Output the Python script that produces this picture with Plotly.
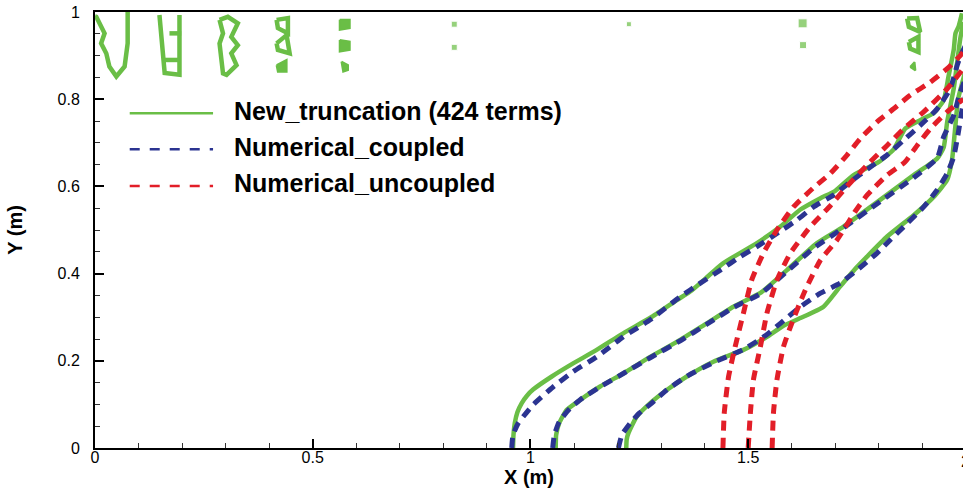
import plotly.graph_objects as go

# ---------------- data ----------------
# New_truncation (424 terms) - three green contours
g1_x = [0.960, 0.961, 0.964, 0.970, 0.980, 0.992, 1.006, 1.049, 1.098, 1.152, 1.213, 1.279, 1.336, 1.371, 1.443,
        1.520, 1.574, 1.620, 1.666, 1.700, 1.742, 1.800, 1.834, 1.861, 1.895, 1.926, 1.949, 1.960, 1.972, 1.976,
        1.983, 1.991]
g1_y = [0.000, 0.030, 0.057, 0.082, 0.103, 0.120, 0.134, 0.164, 0.194, 0.225, 0.263, 0.301, 0.339, 0.362, 0.424,
        0.470, 0.508, 0.547, 0.573, 0.590, 0.626, 0.656, 0.685, 0.733, 0.752, 0.768, 0.798, 0.852, 0.913, 0.951,
        0.966, 0.997]

g2_x = [1.058, 1.059, 1.066, 1.083, 1.114, 1.160, 1.213, 1.275, 1.344, 1.405, 1.466, 1.530, 1.589, 1.658, 1.719,
        1.803, 1.880, 1.934, 1.949, 1.957, 1.972, 1.980, 1.987, 1.994]
g2_y = [0.000, 0.030, 0.057, 0.087, 0.110, 0.141, 0.171, 0.209, 0.248, 0.286, 0.324, 0.357, 0.408, 0.470, 0.508,
        0.569, 0.626, 0.664, 0.690, 0.748, 0.824, 0.885, 0.939, 0.977]

g3_x = [1.220, 1.221, 1.225, 1.244, 1.275, 1.313, 1.359, 1.420, 1.489, 1.543, 1.580, 1.620, 1.673, 1.711, 1.745,
        1.773, 1.819, 1.880, 1.926, 1.957, 1.968, 1.975, 1.982, 1.994, 2.000]
g3_y = [0.000, 0.020, 0.034, 0.072, 0.103, 0.133, 0.164, 0.198, 0.225, 0.255, 0.280, 0.298, 0.324, 0.370, 0.410,
        0.439, 0.485, 0.534, 0.576, 0.615, 0.660, 0.730, 0.800, 0.847, 0.870]

# Numerical_coupled - three blue dashed contours
b1_x = [0.957, 0.960, 0.972, 0.990, 1.006, 1.052, 1.098, 1.152, 1.213, 1.275, 1.344, 1.390, 1.436, 1.482, 1.520,
        1.566, 1.612, 1.650, 1.696, 1.734, 1.780, 1.819, 1.857, 1.895, 1.934, 1.964, 1.980, 1.990, 2.000]
b1_y = [0.000, 0.030, 0.057, 0.080, 0.099, 0.140, 0.175, 0.209, 0.255, 0.294, 0.347, 0.378, 0.408, 0.439, 0.462,
        0.492, 0.523, 0.553, 0.580, 0.610, 0.644, 0.672, 0.706, 0.740, 0.778, 0.824, 0.878, 0.905, 0.925]

b2_x = [1.051, 1.055, 1.066, 1.090, 1.120, 1.165, 1.215, 1.275, 1.344, 1.405, 1.466, 1.530, 1.589, 1.650, 1.719,
        1.803, 1.880, 1.934, 1.949, 1.972, 1.985, 2.000]
b2_y = [0.000, 0.030, 0.060, 0.090, 0.115, 0.143, 0.172, 0.207, 0.246, 0.284, 0.322, 0.355, 0.405, 0.458, 0.505,
        0.565, 0.620, 0.665, 0.714, 0.763, 0.810, 0.850]

b3_x = [1.202, 1.210, 1.229, 1.250, 1.275, 1.313, 1.360, 1.420, 1.489, 1.540, 1.574, 1.620, 1.666, 1.711, 1.750,
        1.796, 1.826, 1.865, 1.903, 1.934, 1.957, 1.972, 1.982, 1.992, 2.000]
b3_y = [0.000, 0.030, 0.057, 0.080, 0.100, 0.133, 0.165, 0.196, 0.226, 0.258, 0.286, 0.324, 0.355, 0.378, 0.408,
        0.447, 0.477, 0.515, 0.553, 0.592, 0.630, 0.668, 0.720, 0.780, 0.810]

# Numerical_uncoupled - three red dashed contours
r1_x = [1.442, 1.445, 1.455, 1.470, 1.489, 1.508, 1.535, 1.566, 1.604, 1.650, 1.689, 1.727, 1.757, 1.796, 1.834,
        1.872, 1.918, 1.957, 1.987, 2.000]
r1_y = [0.000, 0.080, 0.164, 0.232, 0.309, 0.385, 0.447, 0.500, 0.553, 0.597, 0.630, 0.672, 0.709, 0.748, 0.778,
        0.809, 0.839, 0.870, 0.900, 0.915]

r2_x = [1.500, 1.505, 1.512, 1.528, 1.543, 1.566, 1.597, 1.643, 1.689, 1.727, 1.780, 1.819, 1.857, 1.903, 1.957,
        1.994]
r2_y = [0.000, 0.080, 0.156, 0.232, 0.309, 0.385, 0.447, 0.508, 0.556, 0.600, 0.656, 0.694, 0.732, 0.771, 0.824,
        0.870]

r3_x = [1.555, 1.558, 1.566, 1.581, 1.600, 1.631, 1.666, 1.704, 1.746, 1.773, 1.819, 1.860, 1.888, 1.918, 1.957,
        1.994]
r3_y = [0.000, 0.080, 0.156, 0.232, 0.286, 0.362, 0.431, 0.477, 0.543, 0.580, 0.626, 0.656, 0.694, 0.732, 0.771,
        0.800]

# spurious small green contours near the top edge (outlines, None separates pieces)
noise_x = [0.000, 0.003, 0.022, 0.014, 0.026, 0.033, 0.049, 0.068, 0.075, 0.075, None,
           0.148, 0.160, 0.194, 0.194, None, 0.171, 0.198, None, 0.160, 0.194, None,
           0.286, 0.294, 0.286, 0.290, 0.294, 0.302, 0.325, 0.313, 0.328, 0.313, 0.328, 0.305, 0.286, None,
           0.417, 0.443, 0.443, 0.420, 0.417, None,
           0.417, 0.440, 0.447, 0.420, 0.417, None,
           1.865, 1.888, 1.895, 1.869, 1.865, None,
           1.869, 1.891, 1.891, 1.872, 1.869]
noise_y = [0.990, 0.989, 0.951, 0.928, 0.905, 0.875, 0.852, 0.875, 0.928, 1.000, None,
           0.993, 0.860, 0.856, 0.993, None, 0.951, 0.951, None, 0.890, 0.890, None,
           0.982, 0.951, 0.928, 0.898, 0.859, 0.856, 0.878, 0.905, 0.924, 0.943, 0.974, 0.989, 0.982, None,
           0.982, 0.986, 0.951, 0.963, 0.982, None,
           0.928, 0.947, 0.905, 0.913, 0.928, None,
           0.985, 0.986, 0.954, 0.966, 0.985, None,
           0.931, 0.943, 0.908, 0.916, 0.931]
# solid (filled) small green blobs
blob_x = [0.417, 0.440, 0.440, 0.420, 0.417, None,
          0.562, 0.585, 0.585, 0.562, 0.562, None,
          0.562, 0.585, 0.585, 0.562, 0.562, None,
          0.566, 0.581, 0.581, 0.570, 0.566, None,
          1.872, 1.882, 1.884, 1.872]
blob_y = [0.878, 0.890, 0.863, 0.863, 0.878, None,
          0.982, 0.982, 0.963, 0.959, 0.982, None,
          0.936, 0.932, 0.913, 0.909, 0.936, None,
          0.886, 0.878, 0.867, 0.863, 0.886, None,
          0.874, 0.885, 0.866, 0.874]
dot_x = [0.825, 0.825, 1.226, 1.625, 1.626]
dot_y = [0.972, 0.919, 0.972, 0.974, 0.924]
dot_size = [6, 6, 5, 9, 7]

x_tickvals = [0, 0.5, 1, 1.5]
x_ticktext = ["0", "0.5", "1", "1.5"]
x_edge_label = "2"
y_tickvals = [0, 0.2, 0.4, 0.6, 0.8, 1.0]
y_ticktext = ["0", "0.2", "0.4", "0.6", "0.8", "1"]

legend_names = ["New_truncation (424 terms)", "Numerical_coupled", "Numerical_uncoupled"]

# ---------------- styles ----------------
GREEN = "rgb(106,190,70)"
BLUE = "rgb(43,52,145)"
RED = "rgb(226,30,40)"
DASH = "10px,7px"
FONT = "Liberation Sans, Arial, sans-serif"

fig = go.Figure()

for xs, ys in [(g1_x, g1_y), (g2_x, g2_y), (g3_x, g3_y)]:
    fig.add_trace(go.Scatter(x=xs, y=ys, mode="lines", showlegend=False, name=legend_names[0],
                             line=dict(color=GREEN, width=4.5, shape="spline", smoothing=0.5)))
fig.add_trace(go.Scatter(x=noise_x, y=noise_y, mode="lines", showlegend=False, name=legend_names[0],
                         line=dict(color=GREEN, width=4.5)))
fig.add_trace(go.Scatter(x=blob_x, y=blob_y, mode="lines", fill="toself", fillcolor=GREEN, showlegend=False,
                         name=legend_names[0], line=dict(color=GREEN, width=2)))
fig.add_trace(go.Scatter(x=dot_x, y=dot_y, mode="markers", showlegend=False, name=legend_names[0],
                         marker=dict(color=GREEN, size=dot_size, symbol="square")))
for xs, ys in [(b1_x, b1_y), (b2_x, b2_y), (b3_x, b3_y)]:
    fig.add_trace(go.Scatter(x=xs, y=ys, mode="lines", showlegend=False, name=legend_names[1],
                             line=dict(color=BLUE, width=5, dash=DASH, shape="spline", smoothing=0.5)))
for xs, ys in [(r1_x, r1_y), (r2_x, r2_y), (r3_x, r3_y)]:
    fig.add_trace(go.Scatter(x=xs, y=ys, mode="lines", showlegend=False, name=legend_names[2],
                             line=dict(color=RED, width=5, dash=DASH, shape="spline", smoothing=0.5)))

# ---------------- hand-drawn legend (paper coordinates) ----------------
leg_rows = [(0.768, GREEN, "solid"), (0.685, BLUE, "10px,10px"), (0.601, RED, "10px,10px")]
for (yp, col, dsh), name in zip(leg_rows, legend_names):
    fig.add_shape(type="line", xref="paper", yref="paper", x0=0.040, x1=0.136, y0=yp, y1=yp,
                  line=dict(color=col, width=2.5, dash=dsh))
    fig.add_annotation(xref="paper", yref="paper", x=0.158, y=yp + 0.006, xanchor="left", yanchor="middle",
                       text="<b>" + name + "</b>", showarrow=False,
                       font=dict(family=FONT, size=25, color="black"))

# partially visible "2" tick label at the right edge (x = 2 lies just past the visible plot edge)
fig.add_annotation(xref="paper", yref="paper", x=1.0, y=0, xanchor="center", yanchor="top", xshift=2, yshift=-3,
                   text=x_edge_label, showarrow=False, font=dict(family=FONT, size=16, color="black"))

axis_common = dict(showgrid=False, zeroline=False, showline=True, linecolor="black", linewidth=2,
                   ticks="inside", ticklen=9, tickwidth=2, tickcolor="black",
                   tickfont=dict(family=FONT, size=16, color="black"))

fig.update_xaxes(range=[0, 1.9933], tickvals=x_tickvals, ticktext=x_ticktext, mirror=True,
                 minor=dict(dtick=0.1, ticks="inside", ticklen=5, tickwidth=1.2, tickcolor="#333"),
                 title=dict(text="<b>X (m)</b>", standoff=0,
                            font=dict(family=FONT, size=20, color="black")),
                 ticklabelstandoff=-6, **axis_common)
fig.update_yaxes(range=[0, 1], tickvals=y_tickvals, ticktext=y_ticktext,
                 minor=dict(dtick=0.05, ticks="inside", ticklen=5, tickwidth=1.2, tickcolor="#333"),
                 title=dict(text="<b>Y (m)</b>", standoff=30,
                            font=dict(family=FONT, size=20, color="black")),
                 ticklabelstandoff=10, **axis_common)

fig.update_layout(width=963, height=493, margin=dict(l=95, r=0, t=12, b=45),
                  paper_bgcolor="white", plot_bgcolor="white", showlegend=False)

fig.write_html("out.html")
